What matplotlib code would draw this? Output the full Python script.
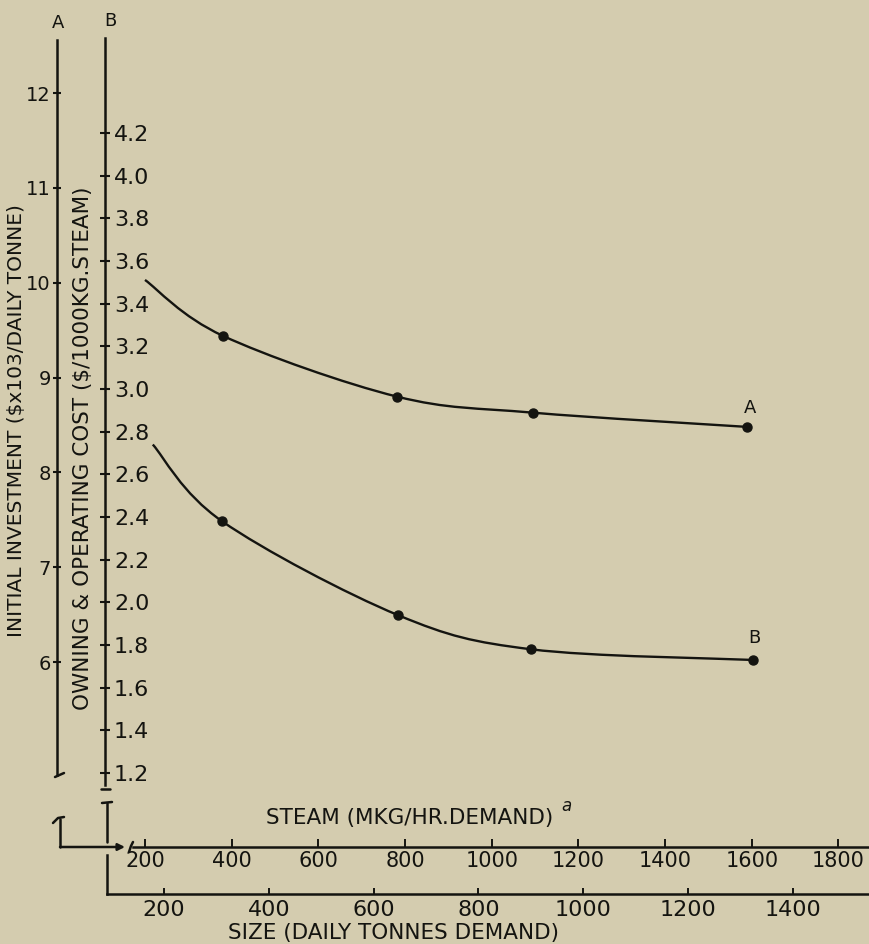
import numpy as np
import matplotlib
matplotlib.use("Agg")
from matplotlib import pyplot as plt
from matplotlib.path import Path
from matplotlib.patches import PathPatch

# curve A: initial investment vs steam demand (first entry is where the pen starts)
steam_a = [200, 380, 781, 1095, 1589]
invest_a = [10.03, 9.44, 8.80, 8.63, 8.48]
# curve B: owning & operating cost vs steam demand
steam_b = [218, 378, 784, 1091, 1603]
cost_b = [2.74, 2.38, 1.94, 1.78, 1.73]

a_ticks = [6, 7, 8, 9, 10, 11, 12]
b_ticks = [1.2, 1.4, 1.6, 1.8, 2.0, 2.2, 2.4, 2.6, 2.8, 3.0, 3.2, 3.4, 3.6, 3.8, 4.0, 4.2]
steam_ticks = [200, 400, 600, 800, 1000, 1200, 1400, 1600, 1800]
size_ticks = [200, 400, 600, 800, 1000, 1200, 1400]

BG = "#d4ccaf"
INK = "#141410"
W, H = 869, 944


def smooth_path(xs, ys):
    # catmull-rom through the points, as cubic bezier segments
    p = np.column_stack([xs, ys]).astype(float)
    ext = np.vstack([p[0], p, p[-1]])
    verts = [p[0]]
    codes = [Path.MOVETO]
    for i in range(1, len(ext) - 2):
        c1 = ext[i] + (ext[i + 1] - ext[i - 1]) / 6
        c2 = ext[i + 1] - (ext[i + 2] - ext[i]) / 6
        verts += [c1, c2, ext[i + 1]]
        codes += [Path.CURVE4] * 3
    return Path(verts, codes)


def fx(px):
    return px / W


def fy(py):
    return (H - py) / H


fig = plt.figure(figsize=(W / 100, H / 100), dpi=100, facecolor=BG)
plt.rcParams["font.family"] = ["DejaVu Sans"]

# --- main plotting area (B scale on the left spine, steam on x) ---
ax = fig.add_axes([fx(105), fy(788), 764 / W, 750 / H])
ax.patch.set_visible(False)
ax.set_xlim(107.7, 1870.5)
ax.set_ylim(1.1297, 4.646)

# --- A scale, on its own spine further left ---
axA = ax.twinx()
axA.patch.set_visible(False)
axA.set_ylim(4.671, 12.582)

# twinx puts the host ticks back on the left, so set them up afterwards
for s in ["top", "bottom", "left"]:
    ax.spines[s].set_visible(False)
ax.yaxis.tick_right()
ax.spines["right"].set_visible(True)
ax.spines["right"].set_position(("axes", 0))
ax.spines["right"].set_linewidth(1.8)
ax.spines["right"].set_color(INK)
ax.spines["right"].set_bounds(1.144, 4.646)
ax.set_xticks([])
ax.set_yticks(b_ticks)
ax.set_yticklabels([f"{v:.1f}" for v in b_ticks])
ax.tick_params(axis="y", direction="inout", length=7, width=1.5, colors=INK,
               labelsize=16, pad=3)

for s in ["top", "bottom", "right"]:
    axA.spines[s].set_visible(False)
axA.spines["left"].set_visible(True)
axA.spines["left"].set_position(("axes", (57 - 105) / 764))
axA.spines["left"].set_linewidth(1.8)
axA.spines["left"].set_color(INK)
axA.spines["left"].set_bounds(4.81, 12.56)
axA.yaxis.tick_left()
axA.set_yticks(a_ticks)
axA.tick_params(axis="y", direction="inout", length=6, width=1.5, colors=INK,
                labelsize=14, pad=1.5)

# curves
axA.add_patch(PathPatch(smooth_path(steam_a, invest_a), fill=False, lw=1.7, ec=INK))
axA.plot(steam_a[1:], invest_a[1:], "o", color=INK, ms=6.5)
axA.annotate("A", (steam_a[-1], invest_a[-1]), xytext=(2, 7), textcoords="offset points",
             ha="center", va="bottom", fontsize=13, color=INK)

ax.add_patch(PathPatch(smooth_path(steam_b, cost_b), fill=False, lw=1.7, ec=INK))
ax.plot(steam_b[1:], cost_b[1:], "o", color=INK, ms=6.5)
ax.annotate("B", (steam_b[-1], cost_b[-1]), xytext=(1, 9), textcoords="offset points",
            ha="center", va="bottom", fontsize=13, color=INK)

# --- steam axis ---
axS = fig.add_axes([fx(105), fy(847), 764 / W, 1 / H])
axS.patch.set_visible(False)
axS.set_xlim(107.7, 1870.5)
axS.set_yticks([])
for s in ["top", "left", "right"]:
    axS.spines[s].set_visible(False)
axS.spines["bottom"].set_linewidth(1.8)
axS.spines["bottom"].set_color(INK)
axS.spines["bottom"].set_bounds(172.3, 1870.5)
axS.set_xticks(steam_ticks)
axS.tick_params(axis="x", direction="in", length=6, width=1.4, colors=INK,
                labelsize=15, pad=3)

# --- size axis ---
axT = fig.add_axes([fx(107), fy(894), 762 / W, 39 / H])
axT.patch.set_visible(False)
axT.set_xlim(91.2, 1545.4)
axT.set_yticks([])
for s in ["top", "right"]:
    axT.spines[s].set_visible(False)
for s in ["bottom", "left"]:
    axT.spines[s].set_linewidth(1.8)
    axT.spines[s].set_color(INK)
axT.set_xticks(size_ticks)
axT.tick_params(axis="x", direction="in", length=4.5, width=1.4, colors=INK,
                labelsize=16, pad=4)

# --- lettering and broken-axis connectors, in pixel coordinates ---
deco = fig.add_axes([0, 0, 1, 1])
deco.set_xlim(0, W)
deco.set_ylim(H, 0)
deco.axis("off")

kw = dict(color=INK, lw=1.8, solid_capstyle="round")
deco.plot([55, 64], [777, 773], **kw)            # end of A scale
deco.plot([101, 110], [789, 789], **kw)          # end of B scale
deco.plot([60, 60], [819, 847], **kw)            # A scale resumes
deco.plot([53, 58, 64], [823, 818, 817], **kw)
deco.plot([107, 107], [803, 842], **kw)          # B scale resumes
deco.plot([102, 112], [803, 802], **kw)
deco.plot([129, 131, 133], [852, 846, 842], **kw)  # break on steam axis
deco.annotate("", xy=(125, 847), xytext=(60, 847),
              arrowprops=dict(arrowstyle="-|>", color=INK, lw=1.8,
                              mutation_scale=10, shrinkA=0, shrinkB=0))

deco.text(58, 23, "A", ha="center", va="center", fontsize=13, color=INK)
deco.text(110, 21, "B", ha="center", va="center", fontsize=13, color=INK)
deco.text(17, 421, "INITIAL INVESTMENT ($x103/DAILY TONNE)", rotation=90,
          ha="center", va="center", fontsize=14.5, color=INK)
deco.text(83, 448, "OWNING & OPERATING COST ($/1000KG.STEAM)", rotation=90,
          ha="center", va="center", fontsize=15.5, color=INK)
deco.text(410, 818, "STEAM (MKG/HR.DEMAND)", ha="center", va="center",
          fontsize=15.5, color=INK)
deco.text(566, 806, "a", ha="center", va="center", fontsize=12,
          style="italic", color=INK)
deco.text(394, 933, "SIZE (DAILY TONNES DEMAND)", ha="center", va="center",
          fontsize=15.5, color=INK)

fig.savefig("out.png", dpi=100, facecolor=BG)
